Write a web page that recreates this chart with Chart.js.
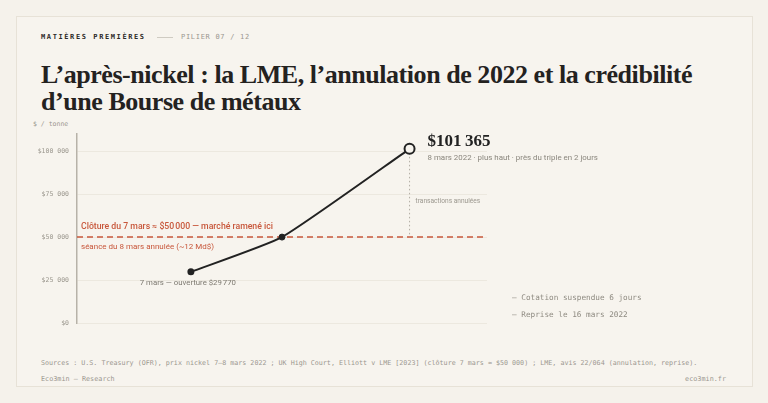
<!DOCTYPE html>
<html lang="fr">
<head>
<meta charset="UTF-8">
<title>Nickel LME 2022</title>
<script src="https://cdn.jsdelivr.net/npm/chart.js@4.4.1/dist/chart.umd.min.js"></script>
<style>
    html, body{
        margin: 0;
        padding: 0;
        width: 768px;
        height: 403px;
        overflow: hidden;
        background: #f5f2eb;
    }
    .card{
        position: absolute;
        left: 16px;
        top: 16px;
        width: 735px;
        height: 369px;
        border: 1px solid #e7e2d7;
        background: #f7f4ee;
    }
    .mono{
        position: absolute;
        font-family: 'DejaVu Sans Mono', monospace;
        color: #9b978e;
        white-space: nowrap;
    }
    .kicker{
        left: 41px;
        top: 33px;
        font-size: 7px;
        font-weight: bold;
        letter-spacing: 1.6px;
        color: #2b2a28;
    }
    .trait{
        position: absolute;
        left: 157px;
        top: 37px;
        width: 16px;
        height: 1px;
        background: #cfcbc2;
    }
    .pilier{
        left: 181px;
        top: 33px;
        font-size: 7px;
        letter-spacing: 0.7px;
    }
    .titre{
        position: absolute;
        left: 41px;
        top: 61px;
        font-family: 'Liberation Serif', serif;
        font-weight: bold;
        font-size: 26px;
        line-height: 27px;
        letter-spacing: -0.45px;
        color: #24221f;
        white-space: nowrap;
    }
    .unite{ left: 33px; top: 120px; font-size: 6.5px; }
    .sources{ left: 41px; top: 359px; font-size: 6.7px; }
    .signature{ left: 41px; top: 375px; font-size: 6.8px; }
    .site{ right: 42px; top: 375px; font-size: 6.8px; }
    canvas{
        position: absolute;
        left: 0;
        top: 0;
    }
</style>
</head>
<body>
    <div class="card"></div>
    <div class="mono kicker">MATIÈRES PREMIÈRES</div>
    <div class="trait"></div>
    <div class="mono pilier">PILIER 07 / 12</div>
    <div class="titre">L’après-nickel : la LME, l’annulation de 2022 et la crédibilité<br>d’une Bourse de métaux</div>
    <div class="mono unite">$ / tonne</div>
    <div class="mono sources">Sources : U.S. Treasury (OFR), prix nickel 7–8 mars 2022 ; UK High Court, Elliott v LME [2023] (clôture 7 mars ≈ $50 000) ; LME, avis 22/064 (annulation, reprise).</div>
    <div class="mono signature">Eco3min — Research</div>
    <div class="mono site">eco3min.fr</div>

    <canvas id="graph" width="768" height="403"></canvas>

<script>
// heures depuis le 7 mars 00h (position sur l'axe horizontal)
const heures = [10, 18, 29.2];
const prix = [29770, 50000, 101365];
const etiquettes = ["7 mars — ouverture", "7 mars — clôture", "8 mars — plus haut"];
const yTicks = [0, 25000, 50000, 75000, 100000];
const yMax = 110000;
const xMin = 0, xMax = 36;
const cloture = 50000;
const notes = ["— Cotation suspendue 6 jours", "— Reprise le 16 mars 2022"];

const ROUGE = '#c8573b';
const ENCRE = '#222222';
const SANS = "Roboto, 'Noto Sans', sans-serif";
const MONO = "'DejaVu Sans Mono', monospace";

const fmt = (v) => v.toLocaleString('fr-FR').replace(/\s/g, '\u202f');

const annotations = {
    id: 'annotations',
    beforeDatasetsDraw(chart){
        const ctx = chart.ctx, a = chart.chartArea;
        const xs = chart.scales.x, ys = chart.scales.y;
        const yc = ys.getPixelForValue(cloture);
        ctx.save();
        // ligne de clôture
        ctx.strokeStyle = ROUGE;
        ctx.lineWidth = 1.5;
        ctx.setLineDash([6, 4]);
        ctx.beginPath();
        ctx.moveTo(a.left, yc);
        ctx.lineTo(a.right, yc);
        ctx.stroke();
        // transactions annulees
        const xp = xs.getPixelForValue(heures[2]);
        ctx.strokeStyle = '#b3aea4';
        ctx.lineWidth = 1;
        ctx.setLineDash([1.5, 2.5]);
        ctx.beginPath();
        ctx.moveTo(xp, ys.getPixelForValue(prix[2]));
        ctx.lineTo(xp, yc);
        ctx.stroke();
        ctx.restore();
    },
    afterDatasetsDraw(chart){
        const ctx = chart.ctx, a = chart.chartArea;
        const xs = chart.scales.x, ys = chart.scales.y;
        const yc = ys.getPixelForValue(cloture);
        ctx.save();
        ctx.textBaseline = 'middle';
        ctx.textAlign = 'left';

        ctx.fillStyle = ROUGE;
        ctx.font = '500 8.7px ' + SANS;
        ctx.fillText('Clôture du 7 mars ≈ $' + fmt(cloture) + ' — marché ramené ici', a.left + 4, yc - 10);
        ctx.font = '400 8px ' + SANS;
        ctx.fillText('séance du 8 mars annulée (~12 Md$)', a.left + 4, yc + 10);

        // ouverture
        const x0 = xs.getPixelForValue(heures[0]), y0 = ys.getPixelForValue(prix[0]);
        ctx.textAlign = 'center';
        ctx.fillStyle = '#7d7970';
        ctx.font = '400 7.8px ' + SANS;
        ctx.fillText('7 mars — ouverture $' + fmt(prix[0]), x0 - 3, y0 + 11);

        // plus haut
        const x2 = xs.getPixelForValue(heures[2]), y2 = ys.getPixelForValue(prix[2]);
        ctx.textAlign = 'left';
        ctx.fillStyle = ENCRE;
        ctx.font = 'bold 17px "Liberation Serif", serif';
        ctx.fillText('$' + fmt(prix[2]), x2 + 18, y2 - 7);
        ctx.fillStyle = '#8a867d';
        ctx.font = '400 7.9px ' + SANS;
        ctx.fillText('8 mars 2022 · plus haut · près du triple en 2 jours', x2 + 18, y2 + 9);
        ctx.fillStyle = '#9b978e';
        ctx.font = '400 6.6px ' + SANS;
        ctx.fillText('transactions annulées', x2 + 6, ys.getPixelForValue(71000));

        // notes
        ctx.fillStyle = '#8f8b82';
        ctx.font = '7.7px ' + MONO;
        notes.forEach((t, i) => ctx.fillText(t, a.right + 25, a.bottom - 25 + i * 17));
        ctx.restore();
    }
};

new Chart(document.getElementById('graph'), {
    type: 'line',
    data: {
        labels: etiquettes,
        datasets: [{
            data: heures.map((h, i) => ({x: h, y: prix[i]})),
            borderColor: ENCRE,
            borderWidth: 2,
            tension: 0.15,
            pointRadius: [3.5, 3, 5],
            pointBackgroundColor: [ENCRE, ENCRE, '#f7f4ee'],
            pointBorderColor: ENCRE,
            pointBorderWidth: [0, 1, 2]
        }]
    },
    options: {
        responsive: false,
        animation: false,
        events: [],
        layout: {padding: {left: 37, right: 281, top: 134, bottom: 80}},
        plugins: {legend: {display: false}, tooltip: {enabled: false}},
        scales: {
            x: {type: 'linear', display: false, min: xMin, max: xMax},
            y: {
                min: 0,
                max: yMax,
                afterBuildTicks: (s) => { s.ticks = yTicks.map(v => ({value: v})); },
                afterFit: (s) => { s.width = 40; },
                border: {display: true, color: '#b7b2a8', width: 1.5},
                grid: {color: '#ece8df', lineWidth: 1, drawTicks: false},
                ticks: {
                    padding: 8,
                    color: '#9b978e',
                    font: {family: MONO, size: 6.5},
                    callback: (v) => '$' + fmt(v)
                }
            }
        }
    },
    plugins: [annotations]
});
</script>
</body>
</html>
